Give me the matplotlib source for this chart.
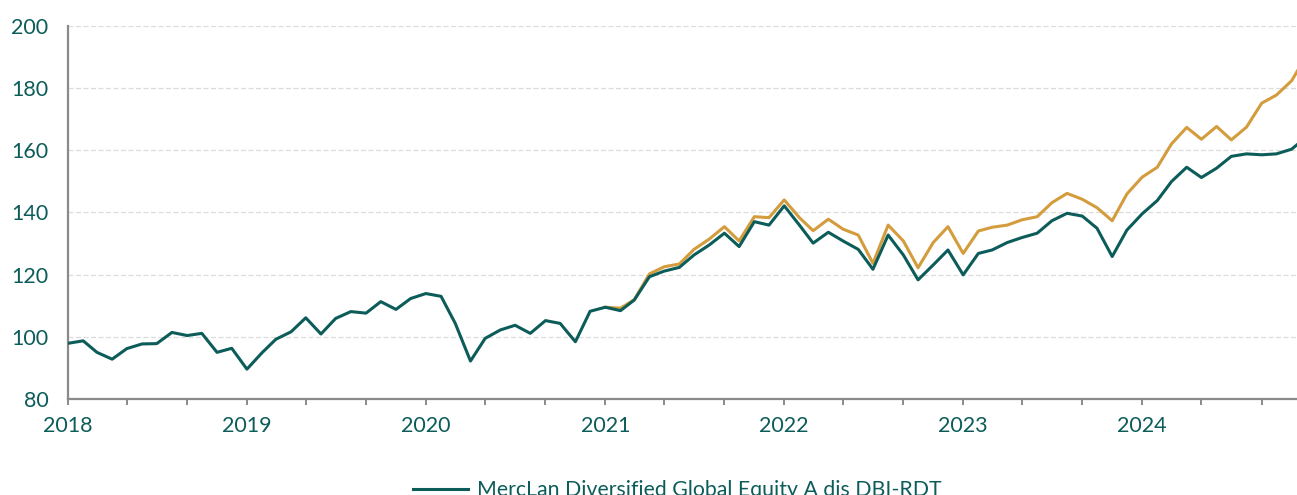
"""
Fund performance chart (indexed to 100).
"""
import matplotlib
matplotlib.use("Agg")
import matplotlib.pyplot as plt
import matplotlib.dates as mdates
import pandas as pd

# Monthly index values, Jan 2018 .. Dec 2024
fund_values = [
    97.9, 98.7, 95.0, 92.8, 96.2, 97.7, 97.8, 101.4, 100.4, 101.1, 95.0, 96.3,
    89.6, 94.9, 99.2, 101.6, 106.1, 100.9, 105.9, 108.1, 107.6, 111.3, 108.8, 112.3,
    113.9, 113.0, 104.3, 92.2, 99.5, 102.2, 103.7, 101.1, 105.2, 104.3, 98.4, 108.2,
    109.5, 108.4, 111.8, 119.3, 121.1, 122.3, 126.3, 129.5, 133.3, 129.0, 137.0, 135.9,
    142.1, 135.9, 130.1, 133.6, 130.8, 128.1, 121.7, 132.7, 126.3, 118.3, 123.1, 127.9,
    119.9, 126.8, 127.9, 130.3, 131.9, 133.3, 137.3, 139.7, 138.8, 134.9, 125.8, 134.3,
    139.5, 143.8, 149.9, 154.5, 151.2, 154.2, 158.0, 158.8, 158.5, 158.8, 160.3, 164.2,
]

# Second series starts Jan 2021
bench_values = [
    109.5, 109.2, 111.9, 120.2, 122.5, 123.4, 128.1, 131.4, 135.4, 130.8, 138.6, 138.3,
    144.0, 138.3, 134.1, 137.8, 134.6, 132.7, 123.6, 135.9, 130.8, 122.2, 130.3, 135.4,
    126.8, 134.0, 135.2, 135.9, 137.6, 138.6, 143.1, 146.1, 144.2, 141.5, 137.3, 145.9,
    151.3, 154.5, 162.0, 167.3, 163.5, 167.6, 163.3, 167.4, 175.1, 177.7, 182.3, 190.3,
]

fund_dates = pd.date_range("2018-01-01", periods=len(fund_values), freq="MS")
bench_dates = pd.date_range("2021-01-01", periods=len(bench_values), freq="MS")

fund_label = "MercLan Diversified Global Equity A dis DBI-RDT"

TEAL = "#0c5c5a"
GOLD = "#d39c3c"
GREY = "#8a8a8a"

plt.rcParams["font.family"] = ["Lato", "DejaVu Sans"]

fig = plt.figure(figsize=(12.97, 4.95), dpi=100)
ax = fig.add_axes([68 / 1297, 1 - 399 / 495, 1 - 68 / 1297, (399 - 25.7) / 495])

ax.plot(bench_dates, bench_values, color=GOLD, linewidth=2.2, zorder=3)
ax.plot(fund_dates, fund_values, color=TEAL, linewidth=2.2, zorder=4, label=fund_label)

ax.set_ylim(80, 200)
ax.set_yticks(range(80, 201, 20))
ax.set_xlim(pd.Timestamp("2018-01-01"), pd.Timestamp("2024-11-12"))

ax.xaxis.set_major_locator(mdates.YearLocator())
ax.xaxis.set_major_formatter(mdates.DateFormatter("%Y"))
ax.xaxis.set_minor_locator(mdates.MonthLocator(bymonth=[5, 9]))

ax.grid(axis="y", color="#dcdcdc", linestyle=(0, (4, 2)), linewidth=0.9)
ax.set_axisbelow(True)

for side in ["top", "right"]:
    ax.spines[side].set_visible(False)
for side in ["left", "bottom"]:
    ax.spines[side].set_color(GREY)
    ax.spines[side].set_linewidth(1.6)

ax.tick_params(axis="y", length=0, pad=14, labelsize=15.5, labelcolor=TEAL)
ax.tick_params(axis="x", which="major", length=4.5, width=1.4, color=GREY,
               pad=8, labelsize=15.5, labelcolor=TEAL)
ax.tick_params(axis="x", which="minor", length=4, width=1.4, color=GREY)

leg = fig.legend(loc="center", bbox_to_anchor=(0.522, 0.010), frameon=False,
                 fontsize=15.3, handlelength=2.6, handletextpad=0.4)
for text in leg.get_texts():
    text.set_color(TEAL)

plt.savefig("out.png", dpi=100)
plt.close()
